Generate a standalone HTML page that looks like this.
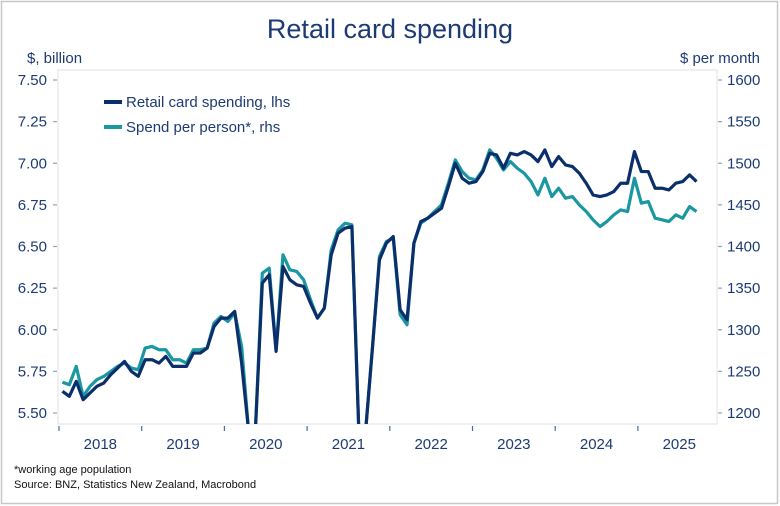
<!DOCTYPE html>
<html><head><meta charset="utf-8"><style>
html,body{margin:0;padding:0;background:#fff;font-family:"Liberation Sans",sans-serif;width:780px;height:506px;overflow:hidden;}
svg{display:block;overflow:hidden;}
svg text{font-family:"Liberation Sans",sans-serif;fill:#1d3b73;}
</style></head><body>
<svg width="780" height="506" xmlns="http://www.w3.org/2000/svg">
<rect x="1.5" y="1.5" width="776" height="502" fill="#fff" stroke="#c8c8c8" stroke-width="1.5"/>
<text x="390" y="38" font-size="27" text-anchor="middle">Retail card spending</text>
<text x="27" y="63" font-size="15">$, billion</text>
<text x="760" y="63" font-size="15" text-anchor="end">$ per month</text>
<rect x="58" y="70" width="659" height="354" fill="none" stroke="#e6e6e6" stroke-width="1.2"/>
<g id="axes"></g>
<defs><clipPath id="clip"><rect x="58" y="70" width="659" height="354"/></clipPath></defs>
<g id="series" clip-path="url(#clip)"></g>
<g>
<line x1="104" y1="102" x2="122" y2="102" stroke="#0b2f6b" stroke-width="4"/>
<text x="126" y="107" font-size="15">Retail card spending, lhs</text>
<line x1="104" y1="127" x2="122" y2="127" stroke="#1a97a0" stroke-width="4"/>
<text x="126" y="132" font-size="15">Spend per person*, rhs</text>
</g>
<text x="14" y="473" font-size="11" style="fill:#111">*working age population</text>
<text x="14" y="488" font-size="11" style="fill:#111">Source: BNZ, Statistics New Zealand, Macrobond</text>
</svg>
<script>
const years=["2018","2019","2020","2021","2022","2023","2024","2025"];
const leftTicks=[5.5,5.75,6.0,6.25,6.5,6.75,7.0,7.25,7.5];
const rightTicks=[1200,1250,1300,1350,1400,1450,1500,1550,1600];
const retail=[5.63,5.60,5.69,5.58,5.62,5.66,5.68,5.73,5.77,5.81,5.75,5.72,
5.82,5.82,5.80,5.84,5.78,5.78,5.78,5.86,5.86,5.89,6.02,6.07,
6.07,6.11,5.80,4.0,4.3,6.28,6.33,5.87,6.38,6.30,6.27,6.26,
6.16,6.07,6.13,6.45,6.58,6.61,6.62,4.5,4.8,5.9,6.42,6.52,
6.56,6.12,6.06,6.52,6.65,6.67,6.70,6.73,6.86,7.00,6.91,6.88,
6.89,6.95,7.06,7.05,6.97,7.06,7.05,7.07,7.05,7.01,7.08,6.98,
7.04,6.99,6.98,6.94,6.88,6.81,6.80,6.81,6.83,6.88,6.88,7.07,
6.95,6.95,6.85,6.85,6.84,6.88,6.89,6.93,6.89];
const perPerson=[1237,1234,1256,1220,1232,1240,1244,1250,1256,1260,1254,1252,
1278,1280,1276,1276,1264,1264,1260,1276,1276,1278,1308,1316,
1310,1320,1280,900,960,1368,1374,1276,1390,1372,1370,1360,
1336,1314,1326,1396,1420,1428,1426,1000,1060,1280,1388,1406,
1410,1318,1306,1404,1428,1434,1442,1450,1476,1504,1490,1482,
1480,1492,1516,1506,1492,1502,1494,1488,1478,1462,1482,1460,
1470,1458,1460,1450,1442,1432,1424,1430,1438,1444,1442,1482,
1452,1454,1434,1432,1430,1438,1434,1448,1442];
const NS="http://www.w3.org/2000/svg";
const x0=59,yearW=82.7,mW=yearW/12;
const clampY=y=>Math.max(60,Math.min(430,y));
const xM=i=>x0+(i+0.5)*mW;
const yL=v=>clampY(80+(7.5-v)*(333/2));
const yR=v=>clampY(413-(v-1200)*(333/400));
const axes=document.getElementById('axes'),series=document.getElementById('series');
function mk(tag,attrs,parent){const e=document.createElementNS(NS,tag);for(const k in attrs)e.setAttribute(k,attrs[k]);parent.appendChild(e);return e;}
leftTicks.forEach(v=>{const y=yL(v);
 const t=mk('line',{x1:53,x2:57,y1:y,y2:y,stroke:'#8fa3c4','stroke-width':1.2},axes);
 
 
 const l=mk('text',{x:47,y:y+5,'font-size':15,'text-anchor':'end'},axes);l.textContent=v.toFixed(2);
 
 });
rightTicks.forEach(v=>{const y=yR(v);
 const t=mk('line',{x1:718,x2:722,y1:y,y2:y,stroke:'#8fa3c4','stroke-width':1.2},axes);
 
 
 const l=mk('text',{x:727,y:y+5,'font-size':15},axes);l.textContent=v;
 
 });
years.forEach((yr,i)=>{const x=x0+i*yearW;
 const t=mk('line',{x1:x,x2:x,y1:426,y2:431,stroke:'#4a6aa0','stroke-width':1.2},axes);
 
 
 const l=mk('text',{x:x+yearW/2,y:449,'font-size':15,'text-anchor':'middle'},axes);l.textContent=yr;
 
 });
const p2=mk('polyline',{points:perPerson.map((v,i)=>xM(i)+','+yR(v)).join(' '),fill:'none',stroke:'#1a97a0','stroke-width':3.2,'stroke-linejoin':'round'},series);


const p1=mk('polyline',{points:retail.map((v,i)=>xM(i)+','+yL(v)).join(' '),fill:'none',stroke:'#0b2f6b','stroke-width':3.2,'stroke-linejoin':'round'},series);


</script>
</body></html>
